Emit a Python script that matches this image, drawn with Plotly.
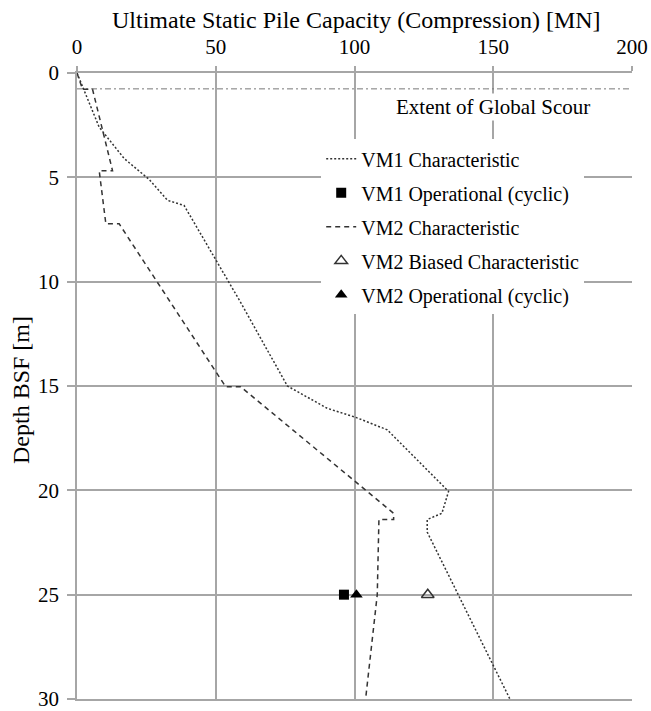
import plotly.graph_objects as go

# VM1 Characteristic
vm1_cap = [0, 8.0, 17.0, 26.0, 32.6, 38.6, 59.0, 75.8, 90.2, 100.4, 111.8, 133.9, 131.5, 126.2, 126.2, 156.0]
vm1_depth = [0, 2.6, 4.1, 5.1, 6.1, 6.35, 11.0, 15.0, 16.07, 16.5, 17.1, 20.05, 21.1, 21.4, 22.0, 30.0]

# VM2 Characteristic
vm2_cap = [0, 2.0, 5.6, 12.8, 8.0, 10.4, 15.2, 53.6, 59.0, 114.1, 114.1, 108.8, 108.2, 104.0]
vm2_depth = [0, 0.78, 0.78, 4.68, 4.68, 7.23, 7.23, 15.04, 15.04, 21.1, 21.4, 21.4, 25.0, 30.0]

# Point values at 25 m
vm1_op_cap, vm1_op_depth = [96.2], [25.0]
vm2_biased_cap, vm2_biased_depth = [126.4], [25.0]
vm2_op_cap, vm2_op_depth = [100.7], [25.0]

# Extent of global scour
scour_depth = 0.76
scour_x = [0, 200]

x_ticks = [0, 50, 100, 150, 200]
y_ticks = [0, 5, 10, 15, 20, 25, 30]

FONT = "Liberation Serif"
GRID = "#a6a6a6"

fig = go.Figure()
fig.add_trace(go.Scatter(x=scour_x, y=[scour_depth, scour_depth], mode="lines",
                         line=dict(color="#777777", width=1, dash="6px,3px,2px,3px"),
                         showlegend=False, hoverinfo="skip"))
fig.add_trace(go.Scatter(x=vm1_cap, y=vm1_depth, mode="lines", name="VM1 Characteristic",
                         legendgroup="a",
                         line=dict(color="#333333", width=1.5, dash="2px,2px")))
fig.add_trace(go.Scatter(x=vm1_op_cap, y=vm1_op_depth, mode="markers", name="VM1 Operational (cyclic)",
                         legendgroup="b",
                         marker=dict(symbol="square", size=10, color="black")))
fig.add_trace(go.Scatter(x=vm2_cap, y=vm2_depth, mode="lines", name="VM2 Characteristic",
                         legendgroup="c",
                         line=dict(color="#333333", width=1.5, dash="5px,4px")))
fig.add_trace(go.Scatter(x=vm2_biased_cap, y=vm2_biased_depth, mode="markers", name="VM2 Biased Characteristic",
                         legendgroup="d",
                         marker=dict(symbol="triangle-up-open", size=11, color="#333333",
                                     line=dict(width=1.5, color="#333333"))))
fig.add_trace(go.Scatter(x=vm2_op_cap, y=vm2_op_depth, mode="markers", name="VM2 Operational (cyclic)",
                         legendgroup="e",
                         marker=dict(symbol="triangle-up", size=11, color="black")))

fig.add_annotation(x=150, y=1.63, text="Extent of Global Scour", showarrow=False,
                   font=dict(family=FONT, size=21, color="black"),
                   bgcolor="white", xref="x", yref="y")

# axis titles as annotations for exact placement
fig.add_annotation(x=0.503, y=1.0847, xref="paper", yref="paper", xanchor="center", yanchor="middle",
                   text="Ultimate Static Pile Capacity (Compression) [MN]", showarrow=False,
                   font=dict(family=FONT, size=24, color="black"))
fig.add_annotation(x=-0.1009, y=0.4936, xref="paper", yref="paper", xanchor="center", yanchor="middle",
                   text="Depth BSF [m]", textangle=-90, showarrow=False,
                   font=dict(family=FONT, size=24, color="black"))

fig.update_layout(
    width=651, height=711,
    margin=dict(l=77, r=19, t=73, b=12),
    paper_bgcolor="white", plot_bgcolor="white",
    font=dict(family=FONT, size=20, color="black"),
    legend=dict(x=0.44, y=0.894, xanchor="left", yanchor="top",
                bgcolor="white", borderwidth=0, tracegroupgap=5,
                font=dict(family=FONT, size=20, color="black")),
    xaxis=dict(side="top", range=[0, 200], tickvals=x_ticks,
               showgrid=True, gridcolor=GRID, gridwidth=1.5,
               showline=True, mirror=True, linecolor=GRID, linewidth=1.5,
               ticks="outside", ticklen=5, tickcolor=GRID, tickwidth=1.5,
               tickfont=dict(family=FONT, size=21), ticklabelstandoff=4,
               ticklabeloverflow="allow",
               zeroline=False, automargin=False),
    yaxis=dict(range=[30, 0], tickvals=y_ticks,
               showgrid=True, gridcolor=GRID, gridwidth=1.5,
               showline=True, linecolor=GRID, linewidth=1.5,
               ticks="outside", ticklen=8, tickcolor=GRID, tickwidth=1.5,
               tickfont=dict(family=FONT, size=21), ticklabelstandoff=4,
               ticklabeloverflow="allow",
               zeroline=False, automargin=False),
)

fig.write_html("out.html")
